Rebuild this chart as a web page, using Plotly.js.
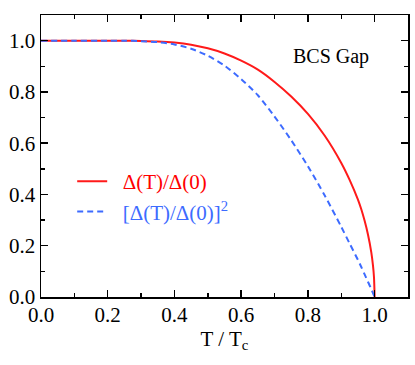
<!DOCTYPE html>
<html>
<head>
<meta charset="utf-8">
<script src="https://cdn.plot.ly/plotly-3.0.1.min.js"></script>
<style>
	body{margin:0;padding:0;background:#fff;}
	#gap{width:415px;height:365px;}
</style>
</head>
<body>
<div id="gap"></div>
<script>
// T/Tc
var tRed = [0.00, 0.10, 0.20, 0.25, 0.30, 0.35, 0.40, 0.45, 0.50, 0.55, 0.60, 0.65, 0.70,
	0.75, 0.80, 0.85, 0.90, 0.925, 0.95, 0.96, 0.97, 0.98, 0.99, 0.995, 0.998, 1.00];
// Delta(T)/Delta(0)
var gapRatio = [1.0, 1.0, 1.0, 0.9999, 0.9990, 0.9970, 0.9925, 0.9840, 0.9700, 0.9500, 0.9220,
	0.8870, 0.8390, 0.7820, 0.7140, 0.6300, 0.5230, 0.4570, 0.3800, 0.3420, 0.2970, 0.2440,
	0.1740, 0.1230, 0.0780, 0.0];
// [Delta(T)/Delta(0)]^2
var gapSq = [1.0, 1.0, 1.0, 0.9998, 0.9980, 0.9940, 0.9851, 0.9683, 0.9409, 0.9025, 0.8501,
	0.7868, 0.7039, 0.6115, 0.5098, 0.3969, 0.2735, 0.2088, 0.1444, 0.1170, 0.0882, 0.0595,
	0.0303, 0.0151, 0.0061, 0.0];

var serif = 'Liberation Serif';

function main(){
	var data = [{
	  x: tRed,
	  y: gapRatio,
	  mode: 'lines',
	  name: '<span style="color:#ff0000">&nbsp;&nbsp;Δ(T)/Δ(0)</span>',
	  line: {color: '#ff1a1a', width: 2, shape: 'spline', smoothing: 0.8},
	  type: 'scatter'
	},{
	  x: tRed,
	  y: gapSq,
	  mode: 'lines',
	  name: '<span style="color:#3d6bff">&nbsp;&nbsp;[Δ(T)/Δ(0)]<sup>2</sup></span>',
	  line: {color: '#3d6bff', width: 2, dash: '6px,4px', shape: 'spline', smoothing: 0.8},
	  type: 'scatter'
	}];

	var axisStyle = {
	  showline: true,
	  linecolor: '#000',
	  linewidth: 1.5,
	  mirror: 'ticks',
	  ticks: 'inside',
	  ticklen: 7,
	  tickwidth: 1.5,
	  tickcolor: '#000',
	  dtick: 0.2,
	  tick0: 0,
	  tickformat: '.1f',
	  minor: {ticks: 'inside', ticklen: 4, dtick: 0.1, tickcolor: '#000', tickwidth: 1.5},
	  showgrid: false,
	  zeroline: false,
	  tickfont: {family: serif, size: 21, color: '#000'}
	};

	var layout = {
	  width: 415,
	  height: 365,
	  margin: {l: 41, r: 7, t: 15, b: 68},
	  paper_bgcolor: '#fff',
	  plot_bgcolor: '#fff',
	  font: {family: serif, size: 21, color: '#000'},
	  xaxis: Object.assign({}, axisStyle, {
	    range: [0, 1.1],
	    ticklabelstandoff: -2,
	    title: {text: 'T / T<sub>c</sub>', font: {family: serif, size: 21}, standoff: 2}
	  }),
	  yaxis: Object.assign({}, axisStyle, {
	    range: [0, 1.1]
	  }),
	  showlegend: true,
	  legend: {
	    x: 0.085,
	    y: 0.482,
	    xanchor: 'left',
	    yanchor: 'top',
	    bgcolor: 'rgba(0,0,0,0)',
	    font: {family: serif, size: 21},
	    tracegroupgap: 0
	  },
	  annotations: [{
	    x: 0.87,
	    y: 0.94,
	    xref: 'x',
	    yref: 'y',
	    text: 'BCS Gap',
	    showarrow: false,
	    font: {family: serif, size: 20, color: '#000'}
	  }]
	};

	Plotly.newPlot('gap', data, layout, {
		staticPlot: true,
		displayModeBar: false
	});
}

main();
</script>
</body>
</html>
